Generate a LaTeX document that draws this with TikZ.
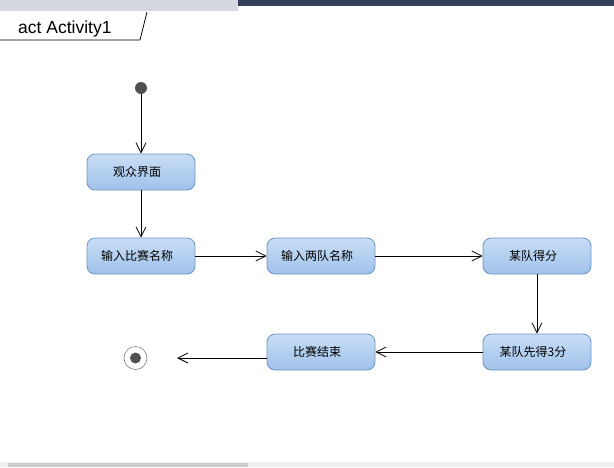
\documentclass[tikz,border=0pt]{standalone}
\usepackage{fontspec}
\setmainfont{Liberation Sans}
\newfontfamily\cjk{Noto Sans CJK SC}
\usepackage{tikz}
\usetikzlibrary{arrows.meta,positioning}
\usepackage{xcolor}
\definecolor{actTop}{RGB}{200,221,245}
\definecolor{actBot}{RGB}{160,194,234}
\definecolor{actRim}{RGB}{110,146,196}
\definecolor{dotc}{RGB}{80,80,80}
\definecolor{barL}{RGB}{211,216,225}
\definecolor{barD}{RGB}{51,62,88}

\begin{document}
\begin{tikzpicture}[x=1pt,y=-1pt,
  act/.style={draw=actRim,line width=0.8pt,rounded corners=8pt,
    top color=actTop,bottom color=actBot,
    minimum width=108pt,minimum height=36pt,inner sep=0pt,
    font=\cjk\fontsize{12}{14}\selectfont,
    execute at end node={\hspace{8pt}}},
  flow/.style={line width=0.8pt,-{Straight Barb[length=10pt,width=10pt]}},
  startdot/.style={circle,fill=dotc,minimum size=12pt,inner sep=0pt},
  enddot/.style={circle,draw=gray,line width=0.6pt,minimum size=23pt,inner sep=0pt,
    path picture={\fill[dotc] (path picture bounding box.center) circle(5.5pt);}}]

\useasboundingbox (0,0) rectangle (614,467);

% window chrome
\fill[barL] (0,0) rectangle (238,11);
\fill[barD] (238,0) rectangle (614,6);
\fill[gray!12] (0,462) rectangle (614,467);
\fill[gray!40] (8,463) rectangle (248,467);

% frame tab
\draw[line width=0.8pt] (0,40) -- (140,40) -- (147,12);
\node[anchor=base west,font=\fontsize{17.5}{20}\selectfont,inner sep=0pt] (title) at (18,33) {act Activity1};

% activities
\node[startdot] (init) at (141,88) {};
\node[act] (view) at (141,172) {观众界面};
\node[act] (match) at (141,256) {输入比赛名称};
\node[act] (teams) at (321,256) {输入两队名称};
\node[act] (score) at (537,256) {某队得分};
\node[act] (win) at (537,352) {某队先得3分};
\node[act] (over) at (321,352) {比赛结束};
\node[enddot] (final) at (135.5,358) {};
\coordinate (tip) at (177,358);

% transitions
\draw[flow] (init) -- (view);
\draw[flow] (view) -- (match);
\draw[flow] (match) -- (teams);
\draw[flow] (teams) -- (score);
\draw[flow] (score) -- (win);
\draw[flow] (win) -- (over);
\draw[flow] (tip -| over.west) -- (tip);

\end{tikzpicture}
\end{document}
